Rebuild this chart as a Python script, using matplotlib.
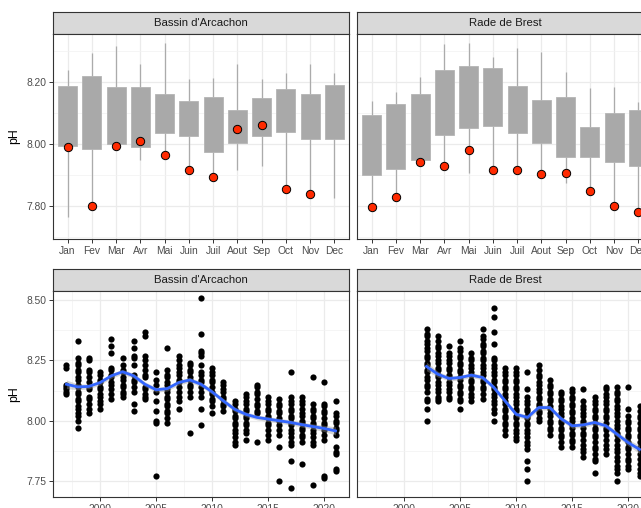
import matplotlib
matplotlib.use("Agg")
import matplotlib.pyplot as plt
import numpy as np

plt.rcParams['font.family'] = ['Liberation Sans', 'DejaVu Sans']

# ---- monthly boxplots (top row) ----
months = ["Jan", "Fev", "Mar", "Avr", "Mai", "Juin", "Juil", "Aout", "Sep", "Oct", "Nov", "Dec"]

arc_whi_lo = [7.765, 7.81, 7.99, 7.95, 7.97, 7.916, 7.894, 7.916, 7.93, 7.862, 7.846, 7.825]
arc_q1 = [7.994, 7.984, 8.000, 7.991, 8.035, 8.027, 7.974, 8.004, 8.027, 8.039, 8.017, 8.015]
arc_q3 = [8.187, 8.221, 8.184, 8.183, 8.161, 8.139, 8.151, 8.111, 8.149, 8.179, 8.163, 8.190]
arc_whi_hi = [8.239, 8.295, 8.315, 8.259, 8.326, 8.210, 8.213, 8.259, 8.209, 8.230, 8.259, 8.230]
arc_last = [7.990, 7.800, 7.995, 8.010, 7.965, 7.915, 7.895, 8.050, 8.060, 7.855, 7.840, np.nan]

bre_whi_lo = [7.80, 7.835, 7.945, 7.935, 7.908, 7.92, 7.92, 7.91, 7.873, 7.855, 7.805, 7.785]
bre_q1 = [7.901, 7.919, 7.949, 8.029, 8.052, 8.059, 8.036, 8.004, 7.957, 7.959, 7.941, 7.930]
bre_q3 = [8.093, 8.128, 8.161, 8.238, 8.251, 8.244, 8.188, 8.141, 8.151, 8.056, 8.100, 8.109]
bre_whi_hi = [8.139, 8.167, 8.215, 8.322, 8.326, 8.280, 8.311, 8.296, 8.233, 8.182, 8.184, 8.137]
bre_last = [7.796, 7.831, 7.943, 7.930, 7.982, 7.915, 7.915, 7.903, 7.908, 7.848, 7.800, 7.780]

# ---- yearly scatter (bottom row) ----
arc_years = [1997, 1998, 1999, 2000, 2001, 2002, 2003, 2004, 2005, 2006, 2007, 2008, 2009,
             2010, 2011, 2012, 2013, 2014, 2015, 2016, 2017, 2018, 2019, 2020, 2021]
arc_ph = [
    [8.23, 8.22, 8.15, 8.14, 8.13, 8.12, 8.11],
    [8.33, 8.26, 8.24, 8.23, 8.21, 8.20, 8.18, 8.17, 8.15, 8.14, 8.12, 8.11, 8.09, 8.08, 8.06, 8.05, 8.03, 8.02, 8.00, 7.97],
    [8.26, 8.25, 8.21, 8.20, 8.18, 8.16, 8.14, 8.13, 8.10, 8.09, 8.07, 8.05, 8.03],
    [8.20, 8.19, 8.17, 8.16, 8.14, 8.13, 8.11, 8.10, 8.08, 8.07, 8.05],
    [8.34, 8.31, 8.28, 8.22, 8.21, 8.19, 8.18, 8.16, 8.15, 8.13, 8.11, 8.09],
    [8.26, 8.23, 8.21, 8.20, 8.18, 8.17, 8.15, 8.14, 8.12, 8.11, 8.10],
    [8.33, 8.30, 8.27, 8.26, 8.23, 8.19, 8.17, 8.16, 8.14, 8.12, 8.07, 8.04],
    [8.37, 8.35, 8.27, 8.25, 8.23, 8.21, 8.19, 8.18, 8.14, 8.13, 8.11, 8.10, 8.09],
    [8.20, 8.17, 8.15, 8.12, 8.08, 8.04, 8.00, 7.99, 7.77],
    [8.30, 8.21, 8.19, 8.18, 8.16, 8.15, 8.13, 8.12, 8.10, 8.09, 8.07, 8.06, 8.04, 8.03, 8.01, 7.99],
    [8.27, 8.25, 8.23, 8.22, 8.20, 8.19, 8.17, 8.16, 8.14, 8.12, 8.10, 8.08, 8.05],
    [8.24, 8.23, 8.21, 8.20, 8.18, 8.17, 8.15, 8.14, 8.12, 8.10, 7.95],
    [8.51, 8.36, 8.29, 8.28, 8.27, 8.23, 8.20, 8.19, 8.17, 8.16, 8.14, 8.12, 8.10, 8.05, 7.98],
    [8.22, 8.20, 8.19, 8.17, 8.16, 8.14, 8.12, 8.11, 8.09, 8.08, 8.06, 8.03],
    [8.16, 8.15, 8.13, 8.12, 8.10, 8.09, 8.07, 8.06, 8.04],
    [8.08, 8.07, 8.05, 8.04, 8.02, 8.01, 7.99, 7.98, 7.96, 7.95, 7.93, 7.91, 7.90],
    [8.11, 8.10, 8.08, 8.07, 8.05, 8.04, 8.02, 8.01, 7.99, 7.98, 7.96, 7.95, 7.92],
    [8.15, 8.14, 8.12, 8.11, 8.09, 8.07, 8.06, 8.04, 8.03, 7.91],
    [8.10, 8.08, 8.07, 8.05, 8.04, 8.02, 8.01, 7.99, 7.98, 7.96, 7.94, 7.92],
    [8.09, 8.07, 8.06, 8.04, 8.03, 8.01, 8.00, 7.98, 7.96, 7.94, 7.89, 7.75],
    [8.20, 8.10, 8.08, 8.07, 8.05, 8.04, 8.02, 8.01, 7.99, 7.98, 7.96, 7.95, 7.93, 7.91, 7.90, 7.83, 7.72],
    [8.10, 8.08, 8.07, 8.05, 8.03, 8.02, 8.00, 7.99, 7.97, 7.96, 7.94, 7.93, 7.91, 7.82],
    [8.18, 8.07, 8.05, 8.04, 8.02, 8.01, 7.99, 7.98, 7.96, 7.95, 7.93, 7.91, 7.90, 7.73],
    [8.16, 8.07, 8.06, 8.04, 8.03, 8.01, 7.99, 7.98, 7.96, 7.94, 7.92, 7.77, 7.76],
    [8.08, 8.03, 8.02, 8.00, 7.99, 7.97, 7.96, 7.94, 7.89, 7.87, 7.86, 7.80, 7.79],
]
arc_smooth = [8.151, 8.140, 8.142, 8.158, 8.186, 8.203, 8.186, 8.151, 8.128, 8.133, 8.158, 8.169, 8.151,
              8.119, 8.082, 8.047, 8.026, 8.013, 8.006, 7.999, 7.992, 7.983, 7.975, 7.967, 7.957]
arc_se = [0.018, 0.012, 0.010, 0.010, 0.010, 0.010, 0.010, 0.010, 0.010, 0.010, 0.010, 0.010, 0.010,
          0.010, 0.010, 0.010, 0.010, 0.010, 0.010, 0.010, 0.010, 0.010, 0.011, 0.013, 0.017]

bre_years = [2002, 2003, 2004, 2005, 2006, 2007, 2008, 2009, 2010, 2011,
             2012, 2013, 2014, 2015, 2016, 2017, 2018, 2019, 2020, 2021]
bre_ph = [
    [8.38, 8.36, 8.35, 8.33, 8.32, 8.30, 8.29, 8.27, 8.26, 8.24, 8.23, 8.21, 8.20, 8.18, 8.17, 8.15, 8.14, 8.12, 8.09, 8.08, 8.05, 8.00],
    [8.35, 8.33, 8.31, 8.30, 8.28, 8.27, 8.25, 8.24, 8.22, 8.21, 8.19, 8.18, 8.16, 8.15, 8.13, 8.12, 8.10, 8.09, 8.08],
    [8.31, 8.28, 8.27, 8.25, 8.24, 8.22, 8.21, 8.19, 8.18, 8.16, 8.15, 8.13, 8.12, 8.10, 8.09],
    [8.33, 8.30, 8.29, 8.27, 8.26, 8.24, 8.23, 8.21, 8.20, 8.18, 8.17, 8.15, 8.14, 8.12, 8.11, 8.09, 8.08, 8.05],
    [8.28, 8.26, 8.25, 8.23, 8.22, 8.20, 8.19, 8.17, 8.16, 8.14, 8.13, 8.11, 8.10, 8.08],
    [8.38, 8.35, 8.34, 8.32, 8.31, 8.29, 8.28, 8.26, 8.25, 8.23, 8.22, 8.20, 8.19, 8.17, 8.16, 8.14, 8.13, 8.11, 8.09],
    [8.47, 8.43, 8.37, 8.32, 8.26, 8.25, 8.23, 8.22, 8.20, 8.19, 8.17, 8.16, 8.14, 8.13, 8.11, 8.10, 8.08, 8.07, 8.05, 8.03, 8.00],
    [8.22, 8.20, 8.19, 8.17, 8.16, 8.14, 8.13, 8.11, 8.10, 8.08, 8.07, 8.05, 8.04, 8.02, 8.01, 7.99, 7.98, 7.96, 7.94],
    [8.22, 8.20, 8.19, 8.17, 8.16, 8.14, 8.13, 8.11, 8.10, 8.08, 8.07, 8.05, 8.04, 8.02, 8.01, 7.99, 7.98, 7.96, 7.95, 7.93, 7.92],
    [8.20, 8.13, 8.10, 8.08, 8.07, 8.05, 8.04, 8.02, 8.01, 7.99, 7.98, 7.96, 7.95, 7.93, 7.91, 7.90, 7.88, 7.83, 7.80, 7.75],
    [8.23, 8.21, 8.19, 8.18, 8.16, 8.15, 8.13, 8.12, 8.10, 8.09, 8.07, 8.06, 8.04, 8.03, 8.01, 8.00],
    [8.17, 8.15, 8.14, 8.12, 8.11, 8.09, 8.08, 8.06, 8.05, 8.03, 8.02, 8.00, 7.99, 7.97, 7.96, 7.94],
    [8.12, 8.11, 8.09, 8.08, 8.06, 8.05, 8.03, 8.02, 8.00, 7.99, 7.97, 7.96, 7.94, 7.93, 7.91, 7.89],
    [8.13, 8.12, 8.10, 8.09, 8.07, 8.06, 8.04, 8.03, 8.01, 8.00, 7.98, 7.97, 7.95, 7.94, 7.92, 7.91, 7.89],
    [8.13, 8.08, 8.06, 8.05, 8.03, 8.02, 8.00, 7.99, 7.97, 7.95, 7.94, 7.92, 7.90, 7.88, 7.87, 7.85],
    [8.10, 8.08, 8.07, 8.05, 8.04, 8.02, 8.01, 7.99, 7.97, 7.96, 7.94, 7.93, 7.91, 7.89, 7.88, 7.86, 7.84, 7.83, 7.78],
    [8.14, 8.13, 8.11, 8.10, 8.08, 8.07, 8.05, 8.04, 8.02, 8.01, 7.99, 7.97, 7.96, 7.94, 7.92, 7.90, 7.88, 7.86],
    [8.14, 8.12, 8.11, 8.09, 8.08, 8.06, 8.05, 8.03, 8.02, 8.00, 7.98, 7.97, 7.95, 7.94, 7.92, 7.90, 7.88, 7.87, 7.85, 7.83, 7.81, 7.80, 7.78, 7.75],
    [8.14, 8.05, 8.02, 8.00, 7.99, 7.97, 7.96, 7.94, 7.93, 7.91, 7.89, 7.88, 7.86, 7.84, 7.83, 7.81, 7.80],
    [8.06, 8.04, 8.02, 8.01, 7.99, 7.97, 7.96, 7.94, 7.93, 7.91, 7.89, 7.88, 7.86, 7.84, 7.82, 7.80, 7.78, 7.77],
]
bre_smooth = [8.225, 8.193, 8.175, 8.179, 8.189, 8.179, 8.138, 8.082, 8.026, 8.013,
              8.054, 8.054, 8.008, 7.978, 7.982, 7.992, 7.978, 7.943, 7.908, 7.880]
bre_se = [0.018, 0.012, 0.010, 0.010, 0.010, 0.010, 0.010, 0.010, 0.010, 0.010,
          0.010, 0.010, 0.010, 0.010, 0.010, 0.010, 0.010, 0.011, 0.013, 0.017]

sites = ["Bassin d'Arcachon", "Rade de Brest"]

W, H = 641, 508
fig = plt.figure(figsize=(W / 100, H / 100), dpi=100)

def box(l, t, r, b):
    return fig.add_axes([l / W, 1 - b / H, (r - l) / W, (b - t) / H])

def style(ax, show_y):
    ax.set_facecolor("white")
    for s in ax.spines.values():
        s.set_color("#333333")
        s.set_linewidth(0.8)
    ax.grid(True, which="major", color="#EBEBEB", lw=0.9, zorder=0)
    ax.grid(True, which="minor", color="#F2F2F2", lw=0.5, zorder=0)
    ax.set_axisbelow(True)
    ax.tick_params(which="major", length=3, width=0.7, color="#333333",
                   labelsize=7.4, labelcolor="#4D4D4D", pad=2)
    ax.tick_params(which="minor", length=0)
    if not show_y:
        ax.tick_params(axis="y", which="both", left=False, labelleft=False)

def strip(l, t, r, b, label):
    sa = box(l, t, r, b)
    sa.set_facecolor("#D9D9D9")
    sa.set_xticks([]); sa.set_yticks([])
    for s in sa.spines.values():
        s.set_color("#333333")
        s.set_linewidth(0.8)
    sa.text(0.5, 0.5, label, ha="center", va="center", fontsize=8.2, color="#1A1A1A",
            transform=sa.transAxes)

lefts = [53, 357]
width = 296
xpos = np.arange(1, 13)

top_data = [(arc_whi_lo, arc_q1, arc_q3, arc_whi_hi, arc_last),
            (bre_whi_lo, bre_q1, bre_q3, bre_whi_hi, bre_last)]
for i, (wlo, q1, q3, whi, last) in enumerate(top_data):
    l = lefts[i]
    strip(l, 12, l + width, 34, sites[i])
    ax = box(l, 34, l + width, 239)
    style(ax, i == 0)
    ax.vlines(xpos, wlo, whi, color="#ABABAB", lw=0.9, zorder=2)
    ax.bar(xpos, np.array(q3) - np.array(q1), bottom=q1, width=0.78,
           color="#A9A9A9", edgecolor="#B5B5B5", lw=0.6, zorder=3)
    ax.scatter(xpos, last, s=36, color="#FF2A00", edgecolors="black", linewidths=0.7, zorder=4)
    ax.set_xlim(0.4, 12.6)
    ax.set_ylim(7.694, 8.355)
    ax.set_xticks(xpos)
    ax.set_xticklabels(months)
    ax.set_yticks([7.8, 8.0, 8.2])
    ax.set_yticklabels(["7.80", "8.00", "8.20"])
    ax.set_yticks([7.7, 7.9, 8.1, 8.3], minor=True)
    if i == 0:
        ax.set_ylabel("pH", fontsize=8.8, color="black", labelpad=4)

bot_data = [(arc_years, arc_ph, arc_smooth, arc_se), (bre_years, bre_ph, bre_smooth, bre_se)]
for i, (yrs, vals, sm, se) in enumerate(bot_data):
    l = lefts[i]
    strip(l, 269, l + width, 291, sites[i])
    ax = box(l, 291, l + width, 497)
    style(ax, i == 0)
    for yr, v in zip(yrs, vals):
        ax.scatter([yr] * len(v), v, s=20, color="black", linewidths=0, zorder=3)
    sm = np.array(sm); se = np.array(se)
    ax.fill_between(yrs, sm - se, sm + se, color="#999999", alpha=0.4, lw=0, zorder=4)
    ax.plot(yrs, sm, color="#3366FF", lw=2.0, zorder=5)
    ax.set_xlim(1995.8, 2022.2)
    ax.set_ylim(7.682, 8.539)
    ax.set_xticks([2000, 2005, 2010, 2015, 2020])
    ax.set_xticks([1997.5, 2002.5, 2007.5, 2012.5, 2017.5], minor=True)
    ax.set_yticks([7.75, 8.0, 8.25, 8.5])
    ax.set_yticklabels(["7.75", "8.00", "8.25", "8.50"])
    ax.set_yticks([7.875, 8.125, 8.375], minor=True)
    if i == 0:
        ax.set_ylabel("pH", fontsize=8.8, color="black", labelpad=4)

fig.savefig("out.png", dpi=100, facecolor="white")
